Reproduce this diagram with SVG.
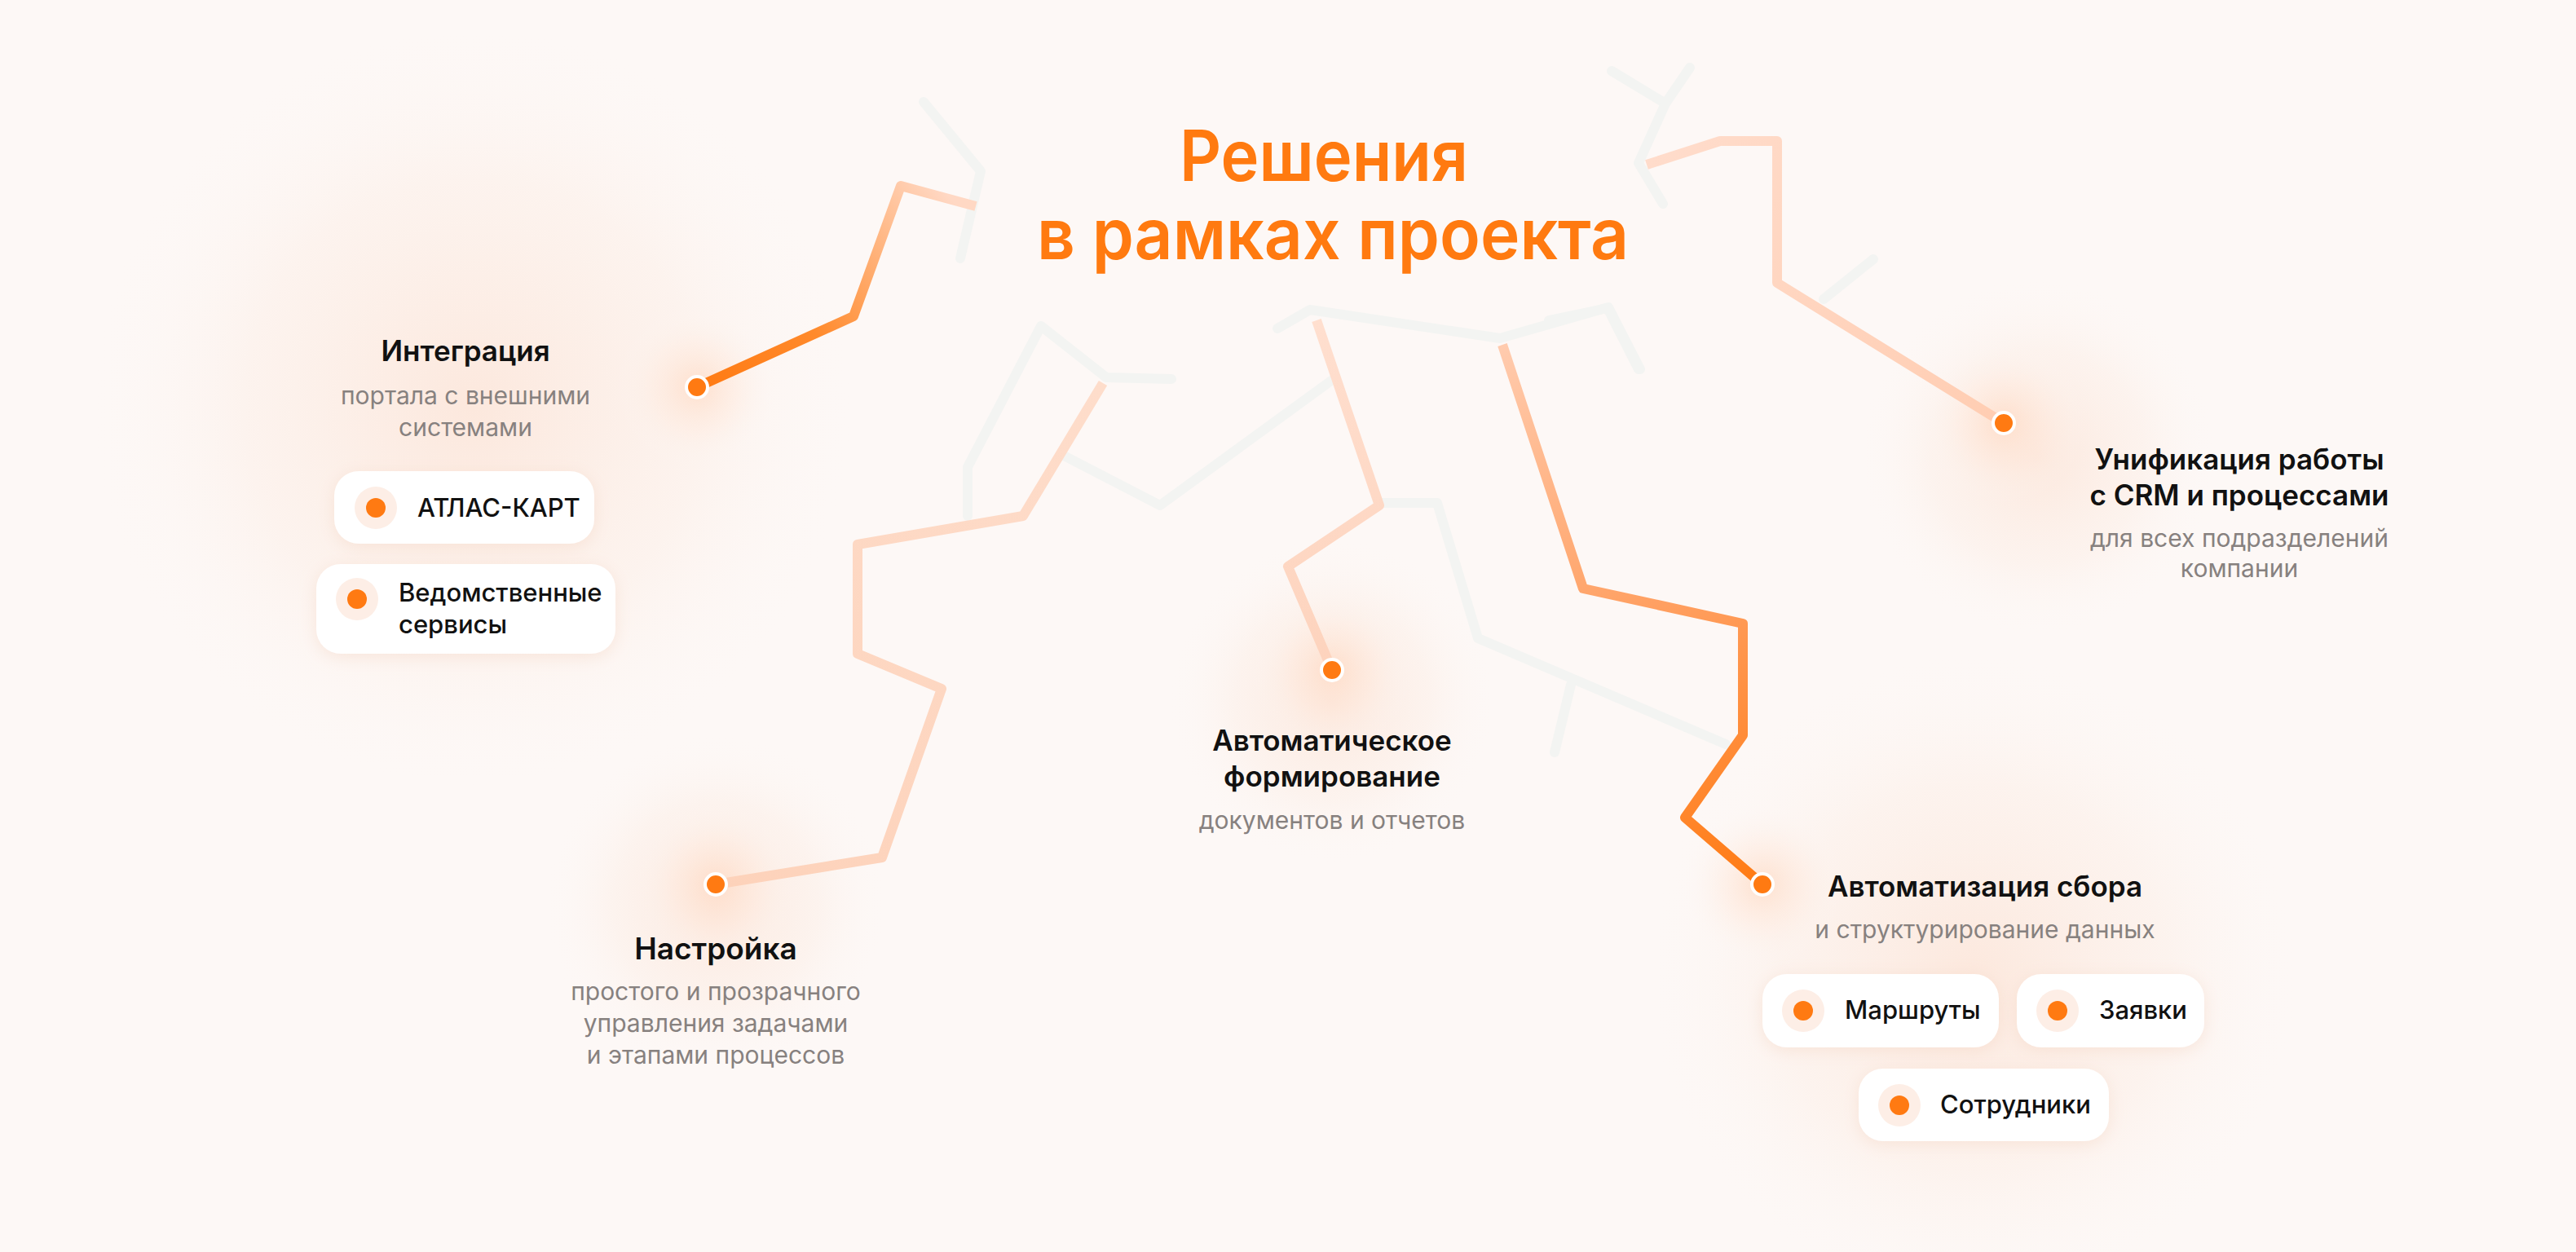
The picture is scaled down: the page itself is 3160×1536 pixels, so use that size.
<svg xmlns="http://www.w3.org/2000/svg" width="3160" height="1536" viewBox="0 0 3160 1536">
  <defs>
    <style>
      .ttl{font-family:Inter,"Noto Sans",sans-serif;font-weight:600;font-size:86px;fill:#FF7A10}
      .h{font-family:Inter,"Noto Sans",sans-serif;font-weight:600;font-size:35px;fill:#111111;text-anchor:middle}
      .s{font-family:Inter,"Noto Sans",sans-serif;font-weight:400;font-size:30px;fill:#87817F;text-anchor:middle}
      .p{font-family:Inter,"Noto Sans",sans-serif;font-weight:500;font-size:31px;fill:#111111}
      .bg{fill:none;stroke:#F3F4F2;stroke-width:12;stroke-linecap:round;stroke-linejoin:round}
      .cn{fill:none;stroke-width:12;stroke-linejoin:round;stroke-linecap:butt}
      .dot{fill:#FF7A12;stroke:#FFFFFF;stroke-width:4}
      .pill{fill:#FFFFFF;filter:url(#shadow)}
      .halo{fill:#FDEEE6}
      .pdot{fill:#FF7A12}
    </style>
    <radialGradient id="glowSmall">
      <stop offset="0" stop-color="#FFD9C2" stop-opacity="0.75"/>
      <stop offset="0.5" stop-color="#FFE6D7" stop-opacity="0.35"/>
      <stop offset="1" stop-color="#FDF8F6" stop-opacity="0"/>
    </radialGradient>
    <radialGradient id="glowBig">
      <stop offset="0" stop-color="#FCE6DA" stop-opacity="0.9"/>
      <stop offset="0.6" stop-color="#FCEEE6" stop-opacity="0.5"/>
      <stop offset="1" stop-color="#FDF8F6" stop-opacity="0"/>
    </radialGradient>
    <linearGradient id="gA" gradientUnits="userSpaceOnUse" x1="855" y1="475" x2="1160" y2="235">
      <stop offset="0" stop-color="#FF7A12"/>
      <stop offset="0.4" stop-color="#FF8A2C"/>
      <stop offset="1" stop-color="#FFD8C4"/>
    </linearGradient>
    <linearGradient id="gB" gradientUnits="userSpaceOnUse" x1="878" y1="1085" x2="1353" y2="470">
      <stop offset="0" stop-color="#FDD2BA"/>
      <stop offset="1" stop-color="#FEDDCB"/>
    </linearGradient>
    <linearGradient id="gC" gradientUnits="userSpaceOnUse" x1="1634" y1="822" x2="1615" y2="393">
      <stop offset="0" stop-color="#FDD3BD"/>
      <stop offset="1" stop-color="#FFDFCF"/>
    </linearGradient>
    <linearGradient id="gD" gradientUnits="userSpaceOnUse" x1="2162" y1="1085" x2="1843" y2="423">
      <stop offset="0" stop-color="#FF7A12"/>
      <stop offset="0.5" stop-color="#FFA062"/>
      <stop offset="1" stop-color="#FFCBAE"/>
    </linearGradient>
    <linearGradient id="gE" gradientUnits="userSpaceOnUse" x1="2458" y1="519" x2="2020" y2="200">
      <stop offset="0" stop-color="#FFCDB2"/>
      <stop offset="1" stop-color="#FFDCCB"/>
    </linearGradient>
    <filter id="shadow" x="-20%" y="-30%" width="140%" height="160%">
      <feDropShadow dx="0" dy="4" stdDeviation="10" flood-color="#F2D2BF" flood-opacity="0.45"/>
    </filter>
  </defs>

  <rect width="3160" height="1536" fill="#FDF8F6"/>

  <g id="glows">
    <circle cx="580" cy="500" r="470" fill="url(#glowBig)"/>
    <circle cx="2420" cy="1200" r="400" fill="url(#glowBig)"/>
    <circle cx="878" cy="1110" r="210" fill="url(#glowBig)"/>
    <circle cx="1634" cy="860" r="200" fill="url(#glowBig)"/>
    <circle cx="2500" cy="560" r="220" fill="url(#glowBig)"/>
    <circle cx="855" cy="475" r="100" fill="url(#glowSmall)"/>
    <circle cx="878" cy="1085" r="100" fill="url(#glowSmall)"/>
    <circle cx="1634" cy="822" r="100" fill="url(#glowSmall)"/>
    <circle cx="2162" cy="1085" r="100" fill="url(#glowSmall)"/>
    <circle cx="2458" cy="519" r="100" fill="url(#glowSmall)"/>
  </g>

  <g id="background-lines">
    <polyline class="bg" points="1133,125 1203,210 1178,317"/>
    <polyline class="bg" points="1977,87 2043,127 2073,83"/>
    <polyline class="bg" points="2043,127 2010,200 2040,250"/>
    <polyline class="bg" points="2237,367 2298,318"/>
    <polyline class="bg" points="1900,393 1972,378 2010,453"/>
    <polyline class="bg" points="1567,403 1607,380 1840,415 1973,377 2012,453"/>
    <polyline class="bg" points="1187,633 1187,573 1277,400 1357,463 1437,465"/>
    <polyline class="bg" points="1307,560 1423,620 1633,467"/>
    <polyline class="bg" points="1693,617 1763,617 1813,783 2117,913"/>
    <polyline class="bg" points="1927,840 1907,923"/>
  </g>

  <g id="connectors">
    <polyline class="cn" stroke="url(#gA)" points="855,475 1047,388 1105,228 1197,253"/>
    <polyline class="cn" stroke="url(#gB)" points="878,1085 1082,1052 1155,845 1052,802 1052,668 1255,633 1353,470"/>
    <polyline class="cn" stroke="url(#gC)" points="1634,822 1580,695 1692,620 1615,393"/>
    <polyline class="cn" stroke="url(#gD)" points="2162,1085 2067,1003 2138,902 2138,765 1942,722 1843,423"/>
    <polyline class="cn" stroke="url(#gE)" points="2458,519 2180,347 2180,173 2110,173 2020,202"/>
  </g>

  <g id="title">
    <text class="ttl" x="1447" y="222" textLength="354" lengthAdjust="spacingAndGlyphs">Решения</text>
    <text class="ttl" x="1272" y="318" textLength="726" lengthAdjust="spacingAndGlyphs">в рамках проекта</text>
  </g>

  <g id="node-integration">
    <circle class="dot" cx="855" cy="475" r="13"/>
    <text class="h" x="571" y="443">Интеграция</text>
    <text class="s" x="571" y="496">портала с внешними</text>
    <text class="s" x="571" y="535">системами</text>
    <g id="pill-atlas">
      <rect class="pill" x="410" y="578" width="319" height="89" rx="30"/>
      <circle class="halo" cx="461" cy="623" r="26"/>
      <circle class="pdot" cx="461" cy="623" r="12"/>
      <text class="p" x="512" y="634">АТЛАС-КАРТ</text>
    </g>
    <g id="pill-services">
      <rect class="pill" x="388" y="692" width="367" height="110" rx="30"/>
      <circle class="halo" cx="438" cy="735" r="26"/>
      <circle class="pdot" cx="438" cy="735" r="12"/>
      <text class="p" x="489" y="738">Ведомственные</text>
      <text class="p" x="489" y="777">сервисы</text>
    </g>
  </g>

  <g id="node-setup">
    <circle class="dot" cx="878" cy="1085" r="13"/>
    <text class="h" x="878" y="1177" style="font-size:37px">Настройка</text>
    <text class="s" x="878" y="1227">простого и прозрачного</text>
    <text class="s" x="878" y="1266">управления задачами</text>
    <text class="s" x="878" y="1305">и этапами процессов</text>
  </g>

  <g id="node-documents">
    <circle class="dot" cx="1634" cy="822" r="13"/>
    <text class="h" x="1634" y="921">Автоматическое</text>
    <text class="h" x="1634" y="965">формирование</text>
    <text class="s" x="1634" y="1017">документов и отчетов</text>
  </g>

  <g id="node-collection">
    <circle class="dot" cx="2162" cy="1085" r="13"/>
    <text class="h" x="2435" y="1100">Автоматизация сбора</text>
    <text class="s" x="2435" y="1151">и структурирование данных</text>
    <g id="pill-routes">
      <rect class="pill" x="2162" y="1195" width="290" height="90" rx="30"/>
      <circle class="halo" cx="2212" cy="1240" r="26"/>
      <circle class="pdot" cx="2212" cy="1240" r="12"/>
      <text class="p" x="2263" y="1250">Маршруты</text>
    </g>
    <g id="pill-requests">
      <rect class="pill" x="2474" y="1195" width="230" height="90" rx="30"/>
      <circle class="halo" cx="2524" cy="1240" r="26"/>
      <circle class="pdot" cx="2524" cy="1240" r="12"/>
      <text class="p" x="2575" y="1250">Заявки</text>
    </g>
    <g id="pill-staff">
      <rect class="pill" x="2280" y="1311" width="307" height="89" rx="30"/>
      <circle class="halo" cx="2330" cy="1356" r="26"/>
      <circle class="pdot" cx="2330" cy="1356" r="12"/>
      <text class="p" x="2380" y="1366">Сотрудники</text>
    </g>
  </g>

  <g id="node-crm">
    <circle class="dot" cx="2458" cy="519" r="13"/>
    <text class="h" x="2747" y="576">Унификация работы</text>
    <text class="h" x="2747" y="620">с CRM и процессами</text>
    <text class="s" x="2747" y="671">для всех подразделений</text>
    <text class="s" x="2747" y="708">компании</text>
  </g>
</svg>
